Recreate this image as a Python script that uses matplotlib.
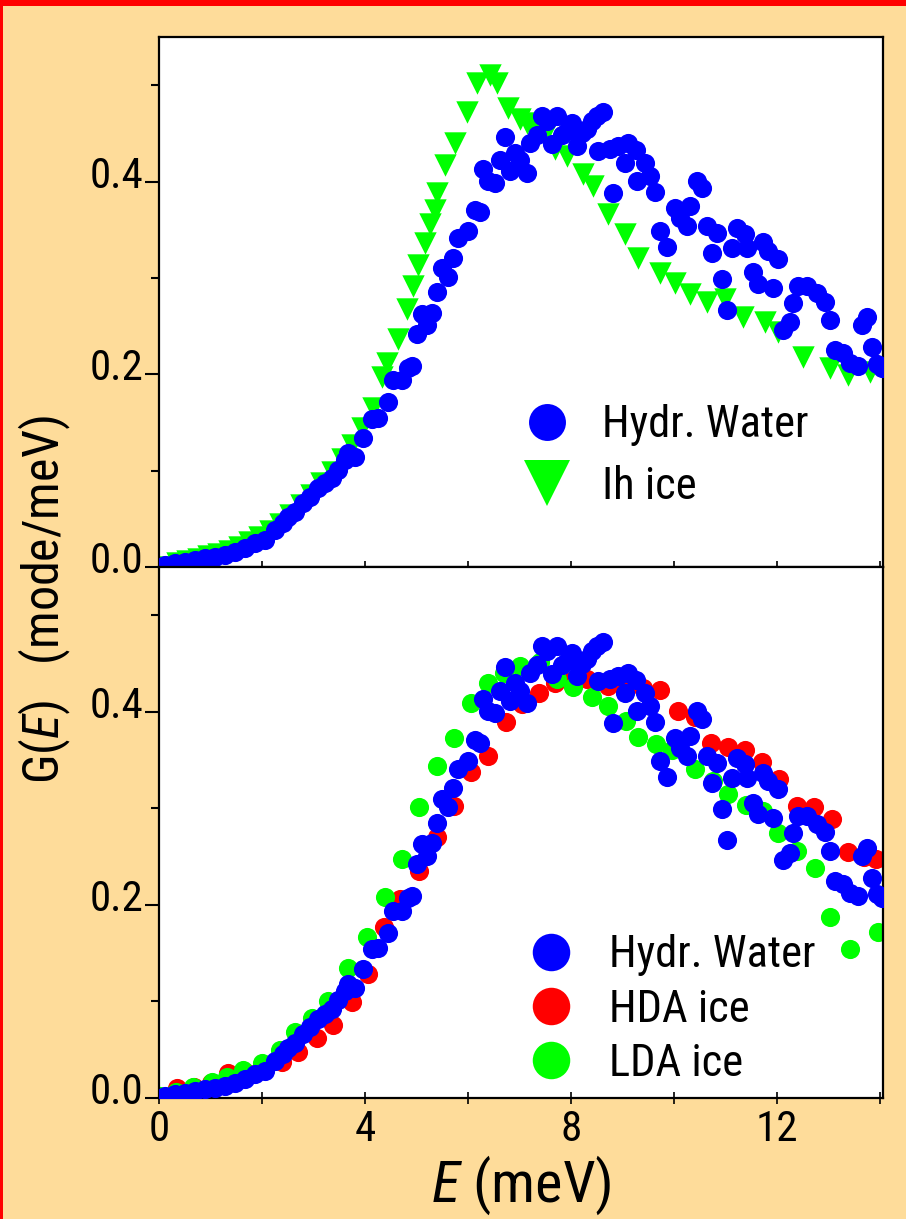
import matplotlib
matplotlib.use('Agg')
import matplotlib.pyplot as plt
from matplotlib.ticker import MultipleLocator, FormatStrFormatter
from matplotlib.lines import Line2D
from matplotlib.patches import Rectangle
import matplotlib.transforms as mtransforms

# ---- data: vibrational density of states G(E) ----
E_water = [0.12, 0.31, 0.50, 0.70, 0.89, 1.09, 1.28, 1.48, 1.67, 1.86, 2.06, 2.25, 2.41, 2.50,
           2.64, 2.80, 2.93, 3.09, 3.22, 3.36, 3.48, 3.61, 3.67, 3.81, 3.96, 4.14, 4.25, 4.45,
           4.54, 4.72, 4.83, 4.91, 5.01, 5.11, 5.20, 5.30, 5.40, 5.50, 5.61, 5.71, 5.81, 6.00,
           6.14, 6.23, 6.29, 6.39, 6.52, 6.62, 6.72, 6.82, 6.91, 7.01, 7.15, 7.20, 7.34, 7.44,
           7.53, 7.63, 7.73, 7.83, 7.92, 8.02, 8.12, 8.21, 8.31, 8.41, 8.50, 8.52, 8.62, 8.76,
           8.82, 8.91, 9.05, 9.11, 9.26, 9.28, 9.44, 9.53, 9.63, 9.73, 9.86, 10.02, 10.12, 10.25,
           10.31, 10.45, 10.54, 10.64, 10.74, 10.83, 10.93, 11.03, 11.13, 11.22, 11.38, 11.42,
           11.53, 11.63, 11.73, 11.83, 11.92, 12.02, 12.12, 12.25, 12.31, 12.41, 12.58, 12.78,
           12.93, 13.03, 13.13, 13.28, 13.42, 13.57, 13.65, 13.75, 13.84, 13.94, 14.04]
G_water = [0.002, 0.004, 0.005, 0.007, 0.009, 0.010, 0.012, 0.016, 0.020, 0.025, 0.028, 0.038,
           0.046, 0.052, 0.057, 0.066, 0.073, 0.082, 0.087, 0.092, 0.101, 0.111, 0.118, 0.114,
           0.134, 0.154, 0.155, 0.171, 0.194, 0.194, 0.207, 0.209, 0.242, 0.263, 0.251, 0.264,
           0.285, 0.310, 0.301, 0.321, 0.341, 0.349, 0.371, 0.368, 0.413, 0.401, 0.399, 0.422,
           0.446, 0.411, 0.430, 0.422, 0.409, 0.440, 0.448, 0.468, 0.463, 0.439, 0.468, 0.448,
           0.453, 0.461, 0.437, 0.450, 0.455, 0.463, 0.468, 0.432, 0.472, 0.434, 0.388, 0.437,
           0.419, 0.440, 0.433, 0.401, 0.419, 0.406, 0.389, 0.349, 0.332, 0.373, 0.362, 0.354,
           0.375, 0.401, 0.393, 0.354, 0.326, 0.347, 0.299, 0.267, 0.331, 0.352, 0.346, 0.331,
           0.306, 0.294, 0.337, 0.328, 0.290, 0.320, 0.246, 0.254, 0.274, 0.292, 0.292, 0.284,
           0.275, 0.256, 0.225, 0.222, 0.212, 0.209, 0.251, 0.259, 0.228, 0.211, 0.207]

E_ih = [0.05, 0.35, 0.55, 0.75, 0.95, 1.15, 1.35, 1.55, 1.75, 1.95, 2.15, 2.35, 2.55, 2.75,
        2.95, 3.15, 3.35, 3.55, 3.75, 3.95, 4.15, 4.33, 4.43, 4.64, 4.82, 4.93, 5.03, 5.17,
        5.26, 5.36, 5.40, 5.55, 5.75, 5.98, 6.17, 6.43, 6.56, 6.78, 7.01, 7.15, 7.24, 7.50,
        7.69, 7.92, 8.23, 8.43, 8.72, 9.05, 9.30, 9.73, 10.02, 10.31, 10.64, 10.99, 11.34,
        11.77, 12.02, 12.50, 13.03, 13.38, 13.81]
G_ih = [0.000, 0.004, 0.006, 0.008, 0.011, 0.013, 0.017, 0.021, 0.026, 0.031, 0.037, 0.045,
        0.054, 0.064, 0.075, 0.087, 0.099, 0.112, 0.127, 0.144, 0.165, 0.197, 0.212, 0.237,
        0.268, 0.292, 0.313, 0.336, 0.356, 0.370, 0.388, 0.417, 0.440, 0.472, 0.502, 0.511,
        0.502, 0.476, 0.465, 0.461, 0.458, 0.448, 0.434, 0.427, 0.408, 0.395, 0.366, 0.346,
        0.321, 0.305, 0.295, 0.283, 0.275, 0.278, 0.259, 0.254, 0.244, 0.218, 0.207, 0.199,
        0.202]

E_hda = [0.35, 0.68, 1.01, 1.34, 1.70, 2.05, 2.39, 2.70, 3.07, 3.38, 3.75, 4.06, 4.37, 4.68,
         5.05, 5.40, 5.73, 6.06, 6.39, 6.74, 7.05, 7.38, 7.70, 8.00, 8.31, 8.72, 9.05, 9.40,
         9.73, 10.08, 10.40, 10.72, 11.05, 11.38, 11.71, 12.05, 12.39, 12.72, 13.07, 13.38,
         13.70, 13.92]
G_hda = [0.010, 0.011, 0.016, 0.026, 0.026, 0.030, 0.037, 0.048, 0.062, 0.076, 0.099, 0.128,
         0.177, 0.206, 0.235, 0.270, 0.302, 0.338, 0.354, 0.389, 0.408, 0.419, 0.430, 0.432,
         0.434, 0.427, 0.424, 0.425, 0.423, 0.401, 0.395, 0.368, 0.364, 0.360, 0.348, 0.330,
         0.302, 0.301, 0.289, 0.255, 0.250, 0.247]

E_lda = [0.02, 0.33, 0.66, 1.03, 1.33, 1.63, 2.00, 2.35, 2.64, 2.97, 3.28, 3.67, 4.04, 4.39,
         4.72, 5.05, 5.40, 5.73, 6.06, 6.39, 6.70, 7.01, 7.40, 7.73, 8.04, 8.41, 8.72, 9.07,
         9.30, 9.65, 9.96, 10.41, 10.76, 11.05, 11.40, 11.73, 12.02, 12.39, 12.74, 13.03,
         13.42, 13.96]
G_lda = [0.002, 0.006, 0.011, 0.017, 0.022, 0.029, 0.036, 0.050, 0.068, 0.083, 0.100, 0.135,
         0.167, 0.208, 0.248, 0.301, 0.344, 0.373, 0.409, 0.430, 0.440, 0.447, 0.452, 0.434,
         0.426, 0.415, 0.406, 0.390, 0.374, 0.367, 0.360, 0.341, 0.328, 0.315, 0.303, 0.297,
         0.274, 0.256, 0.238, 0.187, 0.154, 0.172]

top_labels = ['Hydr. Water', 'Ih ice']
bottom_labels = ['Hydr. Water', 'HDA ice', 'LDA ice']

BLUE, GREEN, RED = '#0000FF', '#00FF00', '#FF0000'
BG = '#FEDC9A'

# ---- fonts: a condensed sans if present, plain sans otherwise ----
FONT = ['Roboto Condensed', 'Noto Sans Condensed', 'Open Sans Condensed', 'Liberation Sans',
        'DejaVu Sans']
plt.rcParams['font.family'] = FONT
plt.rcParams['mathtext.fontset'] = 'custom'
plt.rcParams['mathtext.rm'] = 'Roboto Condensed'
plt.rcParams['mathtext.it'] = 'Roboto Condensed:italic'

fig = plt.figure(figsize=(9.06, 12.19), dpi=100, facecolor=BG)

# red frame edges
fig.patches.append(Rectangle((0, 1 - 6 / 1219), 1, 6 / 1219, transform=fig.transFigure,
                             facecolor='red', edgecolor='none', zorder=10))
fig.patches.append(Rectangle((0, 0), 2.5 / 906, 1, transform=fig.transFigure,
                             facecolor='red', edgecolor='none', zorder=10))

ax1 = fig.add_axes([0.1755, 0.5349, 0.7991, 0.4347])
ax2 = fig.add_axes([0.1755, 0.0993, 0.7991, 0.4356])

S_CIRCLE = 190
S_TRI = 260

ax1.scatter(E_ih, G_ih, s=S_TRI, marker='v', color=GREEN, linewidths=0, zorder=2)
ax1.scatter(E_water, G_water, s=S_CIRCLE, marker='o', color=BLUE, linewidths=0, zorder=3)

ax2.scatter(E_hda, G_hda, s=S_CIRCLE, marker='o', color=RED, linewidths=0, zorder=2)
ax2.scatter(E_lda, G_lda, s=S_CIRCLE, marker='o', color=GREEN, linewidths=0, zorder=2)
ax2.scatter(E_water, G_water, s=S_CIRCLE, marker='o', color=BLUE, linewidths=0, zorder=3)

TICK_FS = 31
label_shift = mtransforms.ScaledTranslation(0, 10 / 100, fig.dpi_scale_trans)
for ax in (ax1, ax2):
    ax.set_facecolor('white')
    ax.set_xlim(0, 14.06)
    ax.set_ylim(0, 0.55)
    for sp in ax.spines.values():
        sp.set_linewidth(1.6)
    ax.xaxis.set_major_locator(MultipleLocator(4))
    ax.xaxis.set_minor_locator(MultipleLocator(2))
    ax.yaxis.set_major_locator(MultipleLocator(0.2))
    ax.yaxis.set_minor_locator(MultipleLocator(0.1))
    ax.yaxis.set_major_formatter(FormatStrFormatter('%.1f'))
    ax.tick_params(axis='y', which='major', direction='out', length=10, width=1.5,
                   labelsize=TICK_FS, pad=1)
    ax.tick_params(axis='y', which='minor', direction='out', length=6, width=1.5)
    ax.tick_params(axis='x', which='both', direction='inout', length=8, width=1.2,
                   labelsize=TICK_FS, pad=4)
    for lab in ax.get_yticklabels():
        lab.set_transform(lab.get_transform() + label_shift)

ax1.tick_params(axis='x', labelbottom=False)

LEG_FS = 32
# legends
h_top = [Line2D([], [], ls='none', marker='o', ms=26.6, color=BLUE, mew=0),
         Line2D([], [], ls='none', marker='v', ms=33, color=GREEN, mew=0)]
ax1.legend(h_top, top_labels, loc='upper left', bbox_to_anchor=(0.504, 0.307),
           frameon=False, fontsize=LEG_FS, borderpad=0, handlelength=1.05,
           handletextpad=0.7, labelspacing=0.44, borderaxespad=0)

h_bot = [Line2D([], [], ls='none', marker='o', ms=27, color=c, mew=0)
         for c in (BLUE, RED, GREEN)]
ax2.legend(h_bot, bottom_labels, loc='upper left', bbox_to_anchor=(0.509, 0.308),
           frameon=False, fontsize=LEG_FS, borderpad=0, handlelength=1.05,
           handletextpad=0.78, labelspacing=0.275, borderaxespad=0)

# axis titles
fig.text(0.05, 0.508, r'G($\mathit{E}$)   (mode/meV)', rotation=90, fontsize=36,
         ha='center', va='center')
fig.text(0.575, 0.028, r'$\mathit{E}$ (meV)', fontsize=42, ha='center', va='center')

fig.savefig('out.png', dpi=100, facecolor=BG)
